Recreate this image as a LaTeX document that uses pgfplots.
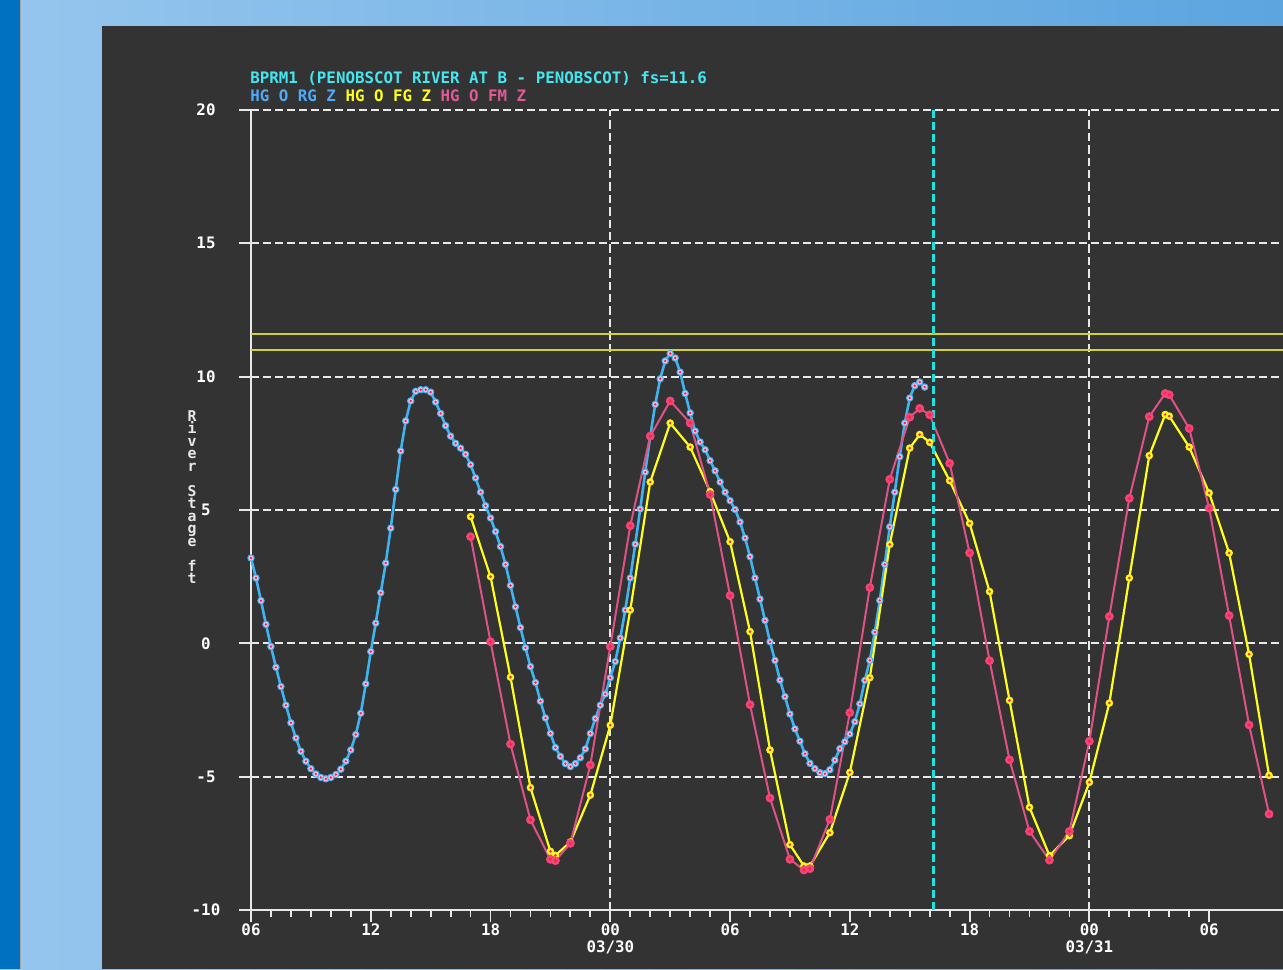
\documentclass[border=0pt]{standalone}
\usepackage{fontspec}
\usepackage{pgfplots}
\usepackage{pgfplotstable}
\pgfplotsset{compat=1.18}
\newfontfamily\mono{DejaVu Sans Mono}

\definecolor{bg}{RGB}{51,51,51}
\definecolor{obsblue}{RGB}{64,180,240}
\definecolor{fgyellow}{RGB}{255,255,30}
\definecolor{fmpink}{RGB}{222,82,135}
\definecolor{fmpinkmark}{RGB}{240,70,120}
\definecolor{dotred}{RGB}{255,30,70}
\definecolor{ringfill}{RGB}{245,190,232}
\definecolor{flood}{RGB}{212,212,40}
\definecolor{titlecyan}{RGB}{70,230,240}
\definecolor{vcyan}{RGB}{30,225,225}
\definecolor{legblue}{RGB}{80,170,250}
\definecolor{legpink}{RGB}{225,90,150}
\definecolor{gridc}{RGB}{232,232,232}
\definecolor{darkblue}{RGB}{0,112,192}
\definecolor{lightblueA}{RGB}{150,198,238}
\definecolor{lightblueB}{RGB}{92,165,223}

\pgfdeclareplotmark{cdot}{%
  \pgfpathcircle{\pgfpointorigin}{\pgfplotmarksize}%
  \pgfusepathqfillstroke
  \pgfscope
  \pgfsetfillcolor{dotred}%
  \pgfpathcircle{\pgfpointorigin}{0.42\pgfplotmarksize}%
  \pgfusepathqfill
  \endpgfscope
}

\newcommand\vl[1]{\hbox to 5pt{\hss#1\hss}}

\pgfplotstableread{
h v
6.00 3.20
6.25 2.45
6.50 1.60
6.75 0.71
7.00 -0.12
7.25 -0.90
7.50 -1.62
7.75 -2.32
8.00 -2.98
8.25 -3.55
8.50 -4.05
8.75 -4.42
9.00 -4.70
9.25 -4.90
9.50 -5.03
9.75 -5.08
10.00 -5.03
10.25 -4.92
10.50 -4.72
10.75 -4.42
11.00 -4.00
11.25 -3.42
11.50 -2.62
11.75 -1.52
12.00 -0.31
12.25 0.76
12.50 1.90
12.75 3.01
13.00 4.32
13.25 5.77
13.50 7.21
13.75 8.34
14.00 9.09
14.25 9.45
14.50 9.51
14.75 9.51
15.00 9.42
15.25 9.05
15.50 8.62
15.75 8.16
16.00 7.77
16.25 7.50
16.50 7.32
16.75 7.09
17.00 6.70
17.25 6.20
17.50 5.67
17.75 5.16
18.00 4.70
18.25 4.19
18.50 3.63
18.75 2.96
19.00 2.17
19.25 1.37
19.50 0.59
19.75 -0.17
20.00 -0.87
20.25 -1.47
20.50 -2.17
20.75 -2.80
21.00 -3.38
21.25 -3.91
21.50 -4.24
21.75 -4.51
22.00 -4.62
22.25 -4.51
22.50 -4.29
22.75 -3.96
23.00 -3.38
23.25 -2.82
23.50 -2.32
23.75 -1.90
24.00 -1.29
24.25 -0.68
24.50 0.20
24.75 1.25
25.00 2.45
25.25 3.72
25.50 5.04
25.75 6.42
26.00 7.77
26.25 8.96
26.50 9.92
26.75 10.59
27.00 10.87
27.25 10.70
27.50 10.17
27.75 9.37
28.00 8.64
28.25 7.96
28.50 7.55
28.75 7.26
29.00 6.85
29.25 6.47
29.50 6.05
29.75 5.67
30.00 5.35
30.25 5.02
30.50 4.55
30.75 3.95
31.00 3.25
31.25 2.45
31.50 1.66
31.75 0.86
32.00 0.06
32.25 -0.64
32.50 -1.38
32.75 -2.00
33.00 -2.65
33.25 -3.21
33.50 -3.67
33.75 -4.14
34.00 -4.50
34.25 -4.70
34.50 -4.85
34.75 -4.89
35.00 -4.74
35.25 -4.38
35.50 -3.95
35.75 -3.69
36.00 -3.40
36.25 -2.94
36.50 -2.27
36.75 -1.39
37.00 -0.64
37.25 0.42
37.50 1.61
37.75 2.96
38.00 4.37
38.25 5.67
38.50 7.00
38.75 8.26
39.00 9.20
39.25 9.66
39.50 9.80
39.75 9.61
}\obsdata

\pgfplotstableread{
h v
17 4.75
18 2.50
19 -1.27
20 -5.41
21 -7.80
21.25 -7.95
22 -7.45
23 -5.69
24 -3.07
25 1.25
26 6.05
27 8.26
28 7.36
29 5.69
30 3.81
31 0.44
32 -4.00
33 -7.55
33.7 -8.35
34 -8.35
35 -7.10
36 -4.84
37 -1.29
38 3.71
39 7.32
39.5 7.83
40 7.54
41 6.10
42 4.50
43 1.94
44 -2.14
45 -6.15
46 -7.96
47 -7.21
48 -5.21
49 -2.24
50 2.45
51 7.04
51.8 8.58
52 8.52
53 7.36
54 5.64
55 3.39
56 -0.41
57 -4.95
}\fgdata

\pgfplotstableread{
h v
17 4.00
18 0.06
19 -3.78
20 -6.62
21 -8.10
21.25 -8.15
22 -7.50
23 -4.56
24 -0.12
25 4.41
26 7.77
27 9.09
28 8.26
29 5.58
30 1.79
31 -2.30
32 -5.80
33 -8.10
33.7 -8.50
34 -8.45
35 -6.60
36 -2.60
37 2.09
38 6.15
39 8.48
39.5 8.81
40 8.57
41 6.75
42 3.39
43 -0.65
44 -4.37
45 -7.05
46 -8.13
47 -7.05
48 -3.67
49 1.01
50 5.44
51 8.50
51.8 9.37
52 9.32
53 8.06
54 5.07
55 1.04
56 -3.06
57 -6.40
}\fmdata

\begin{document}
\begin{tikzpicture}[x=0.5pt,y=0.5pt]
\useasboundingbox (0,0) rectangle (1283,969);
\fill[left color=lightblueA, right color=lightblueB] (0,0) rectangle (1283,969);
\fill[darkblue] (0,0) rectangle (20,969);
\draw[color=gray!70, line width=0.6pt] (20.5,0) -- (20.5,969);
\fill[bg] (102,0) rectangle (1283,943);

\node[anchor=base west, inner sep=0pt, text=titlecyan, font=\mono\bfseries\fontsize{7.9}{8}\selectfont]
  at (250,885) {BPRM1 (PENOBSCOT RIVER AT B - PENOBSCOT) fs=11.6};
\node[anchor=base west, inner sep=0pt, font=\mono\bfseries\fontsize{7.9}{8}\selectfont]
  at (250,867) {\textcolor{legblue}{HG O RG Z} \textcolor{fgyellow}{HG O FG Z} \textcolor{legpink}{HG O FM Z}};

\begin{axis}[
  at={(125.5pt,29.5pt)}, anchor=south west,
  scale only axis, width=516pt, height=400pt,
  xmin=6, xmax=57.7, ymin=-10, ymax=20,
  axis x line*=bottom, axis y line*=left,
  axis line style={gridc, line width=1pt},
  xtick={6,12,18,24,30,36,42,48,54},
  xticklabels={06,12,18,{00\\03/30},06,12,18,{00\\03/31},06},
  minor x tick num=5,
  ytick={-10,-5,0,5,10,15,20},
  yticklabels={-10,-5,0,5,10,15,20},
  tick align=outside,
  major tick length=6pt,
  minor tick length=3.5pt,
  tick style={gridc, line width=0.9pt},
  ymajorgrids,
  major grid style={gridc, line width=1pt, dash pattern=on 3.8pt off 2.2pt},
  tick label style={text=white, font=\mono\bfseries\fontsize{7.9}{8.5}\selectfont},
  xticklabel style={align=center, anchor=north, inner sep=0.5pt},
  yticklabel style={anchor=center, inner sep=0pt, xshift=-16.5pt},
  clip marker paths=false,
]
\draw[gridc, line width=1pt, dash pattern=on 4.2pt off 2pt] (axis cs:24,-10) -- (axis cs:24,20);
\draw[gridc, line width=1pt, dash pattern=on 4.2pt off 2pt] (axis cs:48,-10) -- (axis cs:48,20);
\addplot[flood, line width=0.8pt, forget plot] coordinates {(6,11.6) (57.7,11.6)};
\addplot[flood, line width=0.8pt, forget plot] coordinates {(6,11.0) (57.7,11.0)};
\addplot[obsblue, line width=1.3pt, mark=cdot, mark size=1.6pt,
  mark options={fill=ringfill, draw=obsblue, line width=0.5pt}] table[x=h,y=v] {\obsdata};
\addplot[fgyellow, line width=1.1pt, mark=cdot, mark size=1.75pt,
  mark options={fill=fgyellow, draw=fgyellow!80!orange, line width=0.3pt}] table[x=h,y=v] {\fgdata};
\addplot[fmpink, line width=1pt, mark=cdot, mark size=2.05pt,
  mark options={fill=fmpinkmark, draw=fmpinkmark, line width=0.3pt}] table[x=h,y=v] {\fmdata};
\addplot[vcyan, line width=1.6pt, dash pattern=on 4pt off 2pt] coordinates {(40.2,-10) (40.2,20)};
\end{axis}

\node[anchor=center, inner sep=0pt, text=gridc] at (192,472) {\mono\bfseries\fontsize{7.4}{6.25}\selectfont
  \vbox{\baselineskip=6.25pt\lineskiplimit=-20pt\lineskip=0pt
  \vl{R}\vl{i}\vl{v}\vl{e}\vl{r}\vl{}\vl{S}\vl{t}\vl{a}\vl{g}\vl{e}\vl{}\vl{f}\vl{t}}};
\end{tikzpicture}
\end{document}
